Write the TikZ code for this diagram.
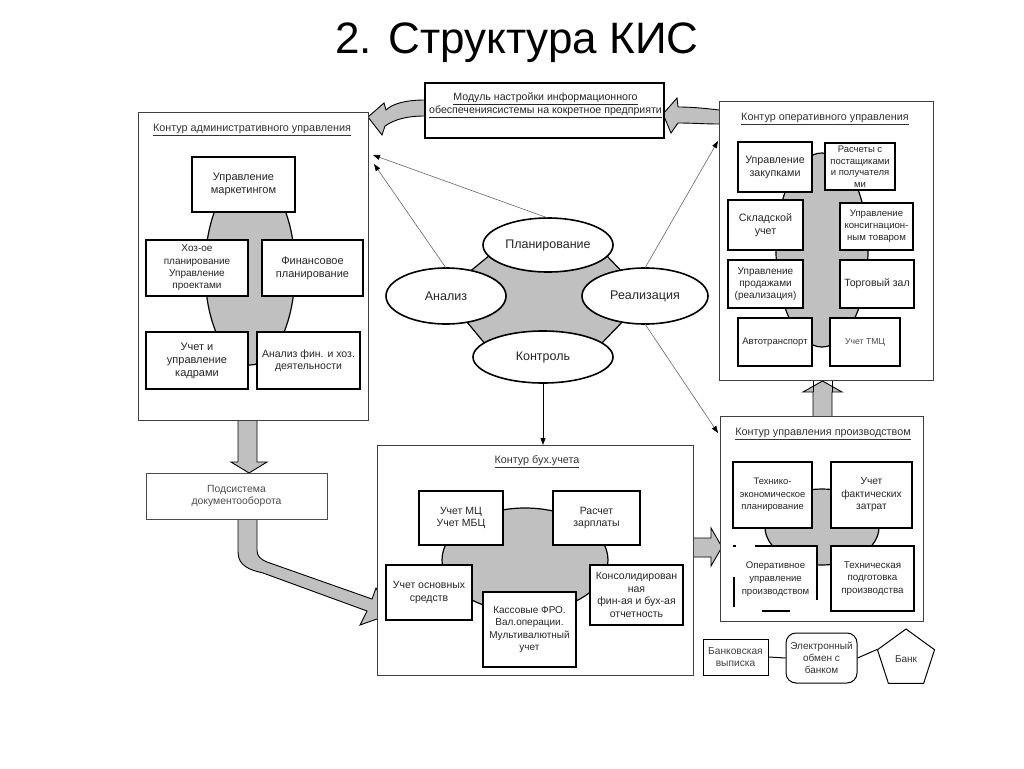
\documentclass[tikz,border=0pt]{standalone}
\usepackage{fontspec}
\setmainfont{Liberation Sans}
\usetikzlibrary{shapes.geometric,arrows.meta}
\definecolor{gry}{HTML}{C0C0C0}
\newcommand{\myfs}[2]{\fontsize{#1}{#2}\selectfont}
\begin{document}
\begin{tikzpicture}[x=1pt,y=-1pt,
  panel/.style={draw=black!75, line width=0.9, fill=white, inner sep=0, outer sep=0},
  bx/.style={draw=black, line width=1.6, fill=white, align=center, inner sep=1pt, outer sep=0, font=\myfs{10.5}{12.5}, text=black!85},
  ov/.style={ellipse, draw=black, line width=1.6, fill=white, inner sep=0, outer sep=0, font=\myfs{12.5}{14}, text=black!85},
  ttl/.style={font=\myfs{10.8}{12}, text=black!80, inner sep=1pt},
  blob/.style={fill=gry, draw=black, line width=1.2},
  barrow/.style={fill=gry, draw=black, line width=0.9, line join=miter},
  conn/.style={draw=black!60, line width=0.6, -{Triangle[length=7pt,width=5pt,color=black]}},
]
\fill[white] (0,0) rectangle (1024,768);
\useasboundingbox (0,0) rectangle (1024,768);

% ---------- title
\node[font=\myfs{44}{50}] (title) at (517,43) {2. Структура КИС};

% ---------- block arrows (drawn before panels)
% module -> admin panel
\filldraw[barrow] (425,100) .. controls (405,100) and (392,104) .. (386,110) -- (384,103) -- (368,117) -- (382,135) -- (385,126) .. controls (395,119) and (408,116) .. (425,116);
% operative panel -> module
\filldraw[barrow] (719,110) .. controls (703,108) and (690,107) .. (678,107) -- (677,98) -- (663,114) -- (671,133) -- (678,123) .. controls (692,123) and (705,124) .. (719,124);
% admin -> document subsystem
\filldraw[barrow] (238,420) -- (238,462) -- (231,462) -- (249,473) -- (267,462) -- (257,462) -- (257,420);
% document subsystem -> accounting
\filldraw[barrow] (238,519) -- (238,552) .. controls (238,566) and (250,570) .. (263,573) -- (367,611) -- (360,625) -- (391,614) -- (376,588) -- (372,599) -- (267,562) .. controls (260,559) and (257,556) .. (257,550) -- (257,519);
% accounting -> production
\filldraw[barrow] (692,538) -- (711,538) -- (711,528) -- (722,547) -- (711,566) -- (711,557) -- (692,557);
% production -> operative
\filldraw[barrow] (813,417) -- (813,392) -- (803,392) -- (822.5,381) -- (842,392) -- (832,392) -- (832,417);
\draw[line width=0.9] (813,380) -- (813,392) (832,380) -- (832,392);

% ---------- panels
\node[panel, minimum width=230, minimum height=308] (adm) at (253,266) {};
\node[panel, minimum width=214, minimum height=279] (op) at (826,240.5) {};
\node[panel, minimum width=203, minimum height=205] (prod) at (821.5,518.5) {};
\node[panel, minimum width=316, minimum height=230] (bukh) at (535,560) {};
\node[draw=black, line width=1.6, fill=white, minimum width=239, minimum height=55, inner sep=0] (mod) at (544.5,110.5) {};
\node[font=\myfs{10.6}{13}, text=black!85, align=center, inner sep=0] (modt) at (545.5,105.5)
  {\underline{Модуль настройки информационного}\\\underline{обеспечениясистемы на кокретное предприяти}};
\node[draw=black!70, line width=0.8, fill=white, minimum width=181, minimum height=46, align=center,
      font=\myfs{10.4}{12.5}, text=black!70] (doc) at (236.5,496) {Подсистема\\документооборота};

% ---------- panel titles
\node[ttl] (admt) at (252,130) {\underline{Контур административного управления}};
\node[ttl] (opt) at (825,119) {\underline{Контур оперативного управления}};
\node[ttl] (prodt) at (823,434) {\underline{Контур управления производством}};
\node[ttl] (bukht) at (537,462) {\underline{Контур бух.учета}};

% ---------- gray blobs
\draw[blob] (250,270) ellipse [x radius=45pt, y radius=95pt];
\draw[blob] (822,250) ellipse [x radius=46pt, y radius=97pt];
\draw[blob] (822,527) ellipse [x radius=57pt, y radius=38pt];
\draw[blob] (525,560) ellipse [x radius=83pt, y radius=52pt];
\draw[blob] (490,255) -- (606,255) -- (628,278) -- (628,316) -- (600,345) -- (486,345) -- (462,316) -- (462,278) -- cycle;

% ---------- admin boxes
\node[bx, minimum width=103, minimum height=55, font=\myfs{11}{13}] (mk) at (243.5,184.5) {Управление\\маркетингом};
\node[bx, minimum width=102, minimum height=56, font=\myfs{10}{12.3}] (hoz) at (197,268) {Хоз-ое\\планирование\\Управление\\проектами};
\node[bx, minimum width=101, minimum height=56, font=\myfs{11}{13}] (fin) at (312.5,268) {Финансовое\\планирование};
\node[bx, minimum width=102, minimum height=57, font=\myfs{11}{13}] (kad) at (197,360.5) {Учет и\\управление\\кадрами};
\node[bx, minimum width=103, minimum height=57] (anl) at (308.5,360.5) {Анализ фин. и хоз.\\деятельности};

% ---------- operative boxes
\node[bx, minimum width=74, minimum height=50, font=\myfs{10.7}{13}] (zak) at (775,167) {Управление\\закупками};
\node[bx, minimum width=70, minimum height=47, font=\myfs{9.5}{11.5}] (ras) at (860,166.5) {Расчеты с\\постащиками\\и получателя\\ми};
\node[bx, minimum width=75, minimum height=50, font=\myfs{10.7}{13}] (skl) at (765.5,225) {Складской\\учет};
\node[bx, minimum width=73, minimum height=47, font=\myfs{9.6}{12}] (kon) at (876.5,226.5) {Управление\\консигнацион-\\ным товаром};
\node[bx, minimum width=75, minimum height=48, font=\myfs{10}{12}] (prd) at (765.5,284) {Управление\\продажами\\(реализация)};
\node[bx, minimum width=74, minimum height=48] (trg) at (877,284) {Торговый зал};
\node[bx, minimum width=74, minimum height=48, font=\myfs{9.5}{12}] (avt) at (775,342) {Автотранспорт};
\node[bx, minimum width=70, minimum height=48, font=\myfs{8.7}{11}, text=black!70] (tmc) at (865,342) {Учет ТМЦ};

% ---------- production boxes
\node[bx, minimum width=79, minimum height=66, font=\myfs{9.4}{12.5}] (tep) at (772.5,495) {Технико-\\экономическое\\планирование};
\node[bx, minimum width=81, minimum height=66, font=\myfs{10.2}{12.5}] (uft) at (871.5,495) {Учет\\фактических\\затрат};
\node[fill=white, minimum width=83, minimum height=66, align=center, inner sep=1pt,
      font=\myfs{9.6}{13}, text=black!85] (opr) at (775.5,579) {Оперативное\\управление\\производством};
\draw[line width=1.2] (733,546) -- (736,546) (755,546) -- (817,546) -- (817,600)
      (734,577) -- (734,607) (762,611) -- (790,611);
\node[bx, minimum width=83, minimum height=65, font=\myfs{9.8}{12.5}] (tpp) at (872.5,578.5) {Техническая\\подготовка\\производства};

% ---------- accounting boxes
\node[bx, minimum width=84, minimum height=54] (mc) at (461,518) {Учет МЦ\\Учет МБЦ};
\node[bx, minimum width=87, minimum height=54] (zp) at (596.5,518) {Расчет\\зарплаты};
\node[bx, minimum width=86, minimum height=55] (os) at (429,592.5) {Учет основных\\средств};
\node[bx, minimum width=93, minimum height=75, font=\myfs{10}{12.5}] (kas) at (529.5,629.5) {Кассовые ФРО.\\Вал.операции.\\Мультивалютный\\учет};
\node[bx, minimum width=93, minimum height=60] (kons) at (636.5,595) {Консолидирован\\ная\\фин-ая и бух-ая\\отчетность};

% ---------- centre
\node[ov, minimum width=130, minimum height=54] (plan) at (548,245) {Планирование};
\node[ov, minimum width=120, minimum height=56] (anal) at (446,296) {Анализ};
\node[ov, minimum width=126, minimum height=56] (real) at (645,296) {Реализация};
\node[ov, minimum width=140, minimum height=52] (kont) at (543,357) {Контроль};

\coordinate (e1) at (373,155);
\coordinate (e2) at (374,164);
\coordinate (e3) at (718,141);
\coordinate (e4) at (718,433);
\draw[conn] (plan.north) -- (e1);
\draw[conn] (anal.north) -- (e2);
\draw[conn] (real.north) -- (e3);
\draw[conn] (real.south) -- (e4);
\draw[conn, draw=black, line width=0.8] (kont.south) -- (kont.south |- bukh.north);

% ---------- bank exchange
\node[draw=black, line width=1, minimum width=65, minimum height=36, align=center, inner sep=1pt,
      font=\myfs{10.2}{12.5}, text=black!75] (vyp) at (735.5,657) {Банковская\\выписка};
\node[draw=black, line width=1, rounded corners=10pt, minimum width=71, minimum height=50, align=center, inner sep=1pt,
      font=\myfs{10}{12}, text=black!80] (eo) at (821.5,658) {Электронный\\обмен с\\банком};
\node[regular polygon, regular polygon sides=5, draw=black, line width=1, minimum size=60, inner sep=0,
      font=\myfs{10}{12}, text=black!80] (bank) at (906,659) {Банк};
\draw[line width=1] (vyp.east) -- (eo.west);
\draw[line width=1] (eo.east) -- (bank.corner 2);
\end{tikzpicture}
\end{document}
